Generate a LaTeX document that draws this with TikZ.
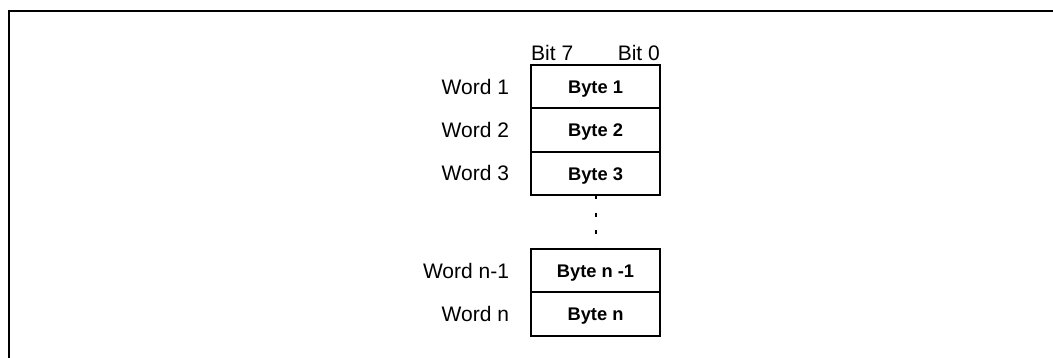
\documentclass[tikz,border=0pt]{standalone}
\usepackage{fontspec}
\setmainfont{Liberation Sans}
\usetikzlibrary{positioning}

\tikzset{
  bytebox/.style={draw, line width=2pt, minimum width=129pt, minimum height=43.4pt,
    inner sep=0pt, outer sep=0pt, text height=13.1pt, text depth=0pt,
    font={\fontsize{18.3}{22}\selectfont\bfseries}},
  wordlabel/.style={inner sep=0pt, outer sep=0pt, text height=15pt, text depth=0pt,
    font={\fontsize{21}{25}\selectfont}},
  bitlabel/.style={inner sep=0pt, font={\fontsize{21}{25}\selectfont}},
}

\begin{document}
\begin{tikzpicture}[x=1pt,y=-1pt]
  \def \gap {22pt}
  \useasboundingbox (0,0) rectangle (1053,358);

  \draw[line width=2pt] (9,362) |- (1057,11);

  \node[bytebox] (b1) at (595.5,86.7) {Byte 1};
  \node[bytebox, below=0pt of b1] (b2) {Byte 2};
  \node[bytebox, below=0pt of b2] (b3) {Byte 3};
  \node[bytebox, below=53.8pt of b3] (bn1) {Byte n -1};
  \node[bytebox, below=0pt of bn1] (bn) {Byte n};

  \node[wordlabel, left=\gap of b1] (w1) {Word 1};
  \node[wordlabel, left=\gap of b2] (w2) {Word 2};
  \node[wordlabel, left=\gap of b3] (w3) {Word 3};
  \node[wordlabel, left=\gap of bn1] (wn1) {Word n-1};
  \node[wordlabel, left=\gap of bn] (wn) {Word n};

  \node[bitlabel, anchor=base west] (bit7) at ([yshift=4pt]b1.north west) {Bit 7};
  \node[bitlabel, anchor=base east] (bit0) at ([yshift=4pt]b1.north east) {Bit 0};

  \draw[line width=2pt, dash pattern=on 4pt off 13.5pt] (b3.south) -- (bn1.north);
\end{tikzpicture}
\end{document}
